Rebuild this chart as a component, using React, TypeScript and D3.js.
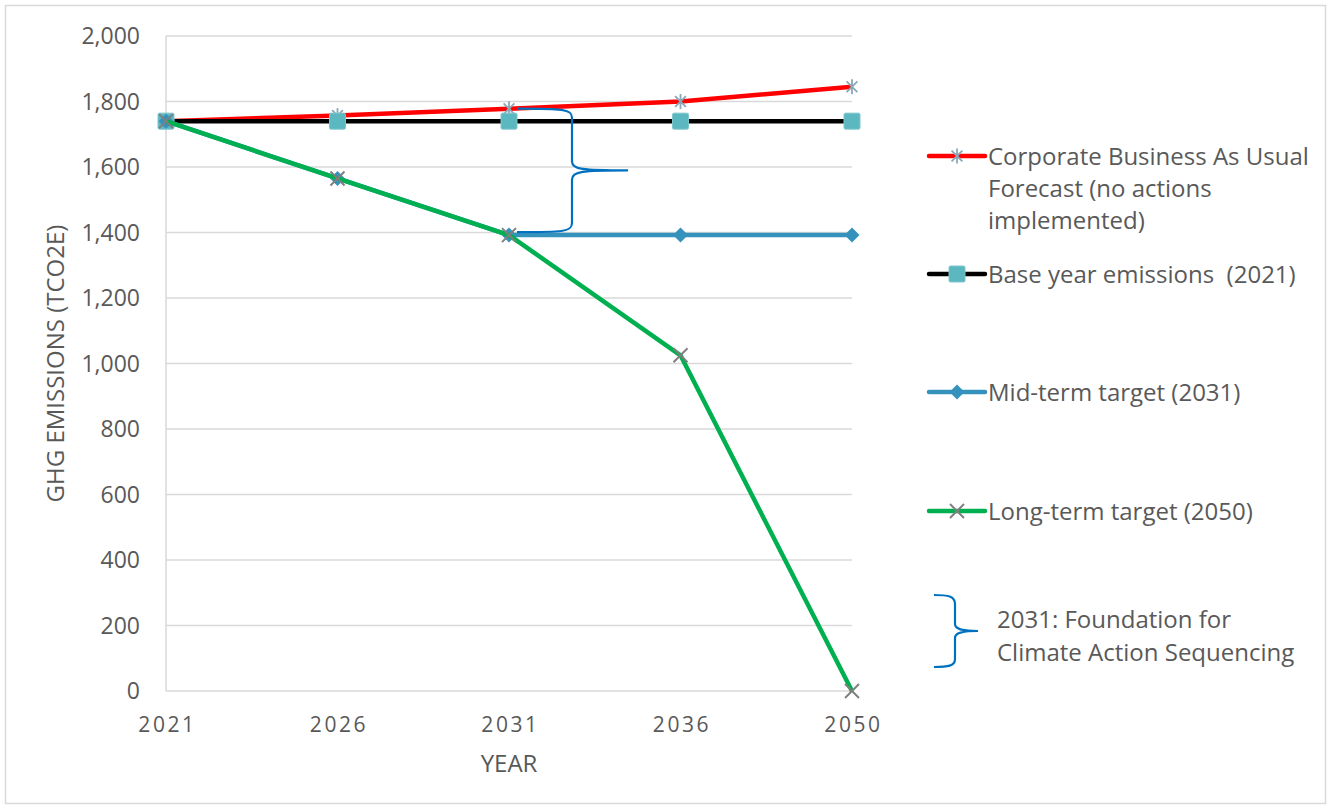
import React from "react";
import * as d3 from "d3";

const years = ["2021", "2026", "2031", "2036", "2050"];
const businessAsUsual = [1740, 1757, 1778, 1800, 1845];
const baseYear = [1740, 1740, 1740, 1740, 1740];
const midTerm = [1740, 1565, 1392, 1392, 1392];
const longTerm = [1740, 1565, 1392, 1025, 0];
const yTicks = [0, 200, 400, 600, 800, 1000, 1200, 1400, 1600, 1800, 2000];

const W = 1331;
const H = 809;
const FONT = "'Open Sans', 'Noto Sans', sans-serif";
const TEXT = "#595959";
const GRID = "#d9d9d9";

const x = d3.scalePoint<string>().domain(years).range([166, 852]).padding(0);
const y = d3.scaleLinear().domain([0, 2000]).range([691, 36]);
const fmt = d3.format(",");

type Marker = "asterisk" | "square" | "diamond" | "cross";

function MarkerShape({ kind, cx, cy }: { kind: Marker; cx: number; cy: number }) {
  if (kind === "square") {
    return <rect x={cx - 8} y={cy - 8} width={16} height={16} rx={1.5} fill="#5bb7c0" stroke="#7ec6cd" strokeWidth={1} />;
  }
  if (kind === "diamond") {
    const r = 7.5;
    return <path d={`M${cx},${cy - r}L${cx + r},${cy}L${cx},${cy + r}L${cx - r},${cy}Z`} fill="#3592bd" />;
  }
  if (kind === "asterisk") {
    const r = 7.5;
    const d = r * 0.72;
    return (
      <g stroke="#8aa8b8" strokeWidth={1.8}>
        <line x1={cx} y1={cy - r} x2={cx} y2={cy + r} />
        <line x1={cx - d} y1={cy - d} x2={cx + d} y2={cy + d} />
        <line x1={cx - d} y1={cy + d} x2={cx + d} y2={cy - d} />
      </g>
    );
  }
  const r = 7;
  return (
    <g stroke="#7f7f7f" strokeWidth={2}>
      <line x1={cx - r} y1={cy - r} x2={cx + r} y2={cy + r} />
      <line x1={cx - r} y1={cy + r} x2={cx + r} y2={cy - r} />
    </g>
  );
}

const series: { name: string[]; values: number[]; color: string; marker: Marker; legendY: number }[] = [
  { name: ["Corporate Business As Usual", "Forecast (no actions", "implemented)"], values: businessAsUsual, color: "#ff0000", marker: "asterisk", legendY: 156 },
  { name: ["Base year emissions \u00a0(2021)"], values: baseYear, color: "#000000", marker: "square", legendY: 274 },
  { name: ["Mid-term target (2031)"], values: midTerm, color: "#3592bd", marker: "diamond", legendY: 392 },
  { name: ["Long-term target (2050)"], values: longTerm, color: "#00b050", marker: "cross", legendY: 511 },
];

const line = d3
  .line<number>()
  .x((_, i) => x(years[i]) as number)
  .y((v) => y(v));

// Curly brace drawn from (x0, top) to (x0, bottom), pointing right to tipX
function bracePath(x0: number, top: number, bottom: number, midX: number, tipX: number) {
  const mid = (top + bottom) / 2;
  const c = 9;
  return [
    `M${x0},${top}`,
    `C${midX - 10},${top} ${midX},${top} ${midX},${top + c}`,
    `L${midX},${mid - c}`,
    `C${midX},${mid - 1} ${midX + 10},${mid} ${tipX},${mid}`,
    `M${midX},${bottom - c}`,
    `L${midX},${mid + c}`,
    `C${midX},${mid + 1} ${midX + 10},${mid} ${tipX},${mid}`,
    `M${x0},${bottom}`,
    `C${midX - 10},${bottom} ${midX},${bottom} ${midX},${bottom - c}`,
  ].join(" ");
}

export default function App() {
  const xBrace = (x("2031") as number) + 8;
  const braceTop = y(businessAsUsual[2]);
  const braceBottom = y(midTerm[2]) - 3;
  return (
    <svg width={W} height={H} style={{ position: "absolute", left: 0, top: 0, background: "#fff" }} fontFamily={FONT}>
      <rect x={5.5} y={5.5} width={W - 11} height={H - 11} fill="#fff" stroke={GRID} strokeWidth={1.5} />

      {/* gridlines and axes */}
      {yTicks.map((t) => (
        <line key={t} x1={166} x2={852} y1={y(t)} y2={y(t)} stroke={GRID} strokeWidth={1.5} />
      ))}
      <line x1={166} x2={166} y1={y(2000)} y2={y(0)} stroke={GRID} strokeWidth={1.5} />

      {yTicks.map((t) => (
        <text key={t} x={140} y={y(t)} dy="0.36em" textAnchor="end" fontSize={23} fill={TEXT}>
          {fmt(t)}
        </text>
      ))}
      {years.map((yr) => (
        <text key={yr} x={(x(yr) as number) + 1.5} y={732} textAnchor="middle" fontSize={21} letterSpacing={2.6} fill={TEXT}>
          {yr}
        </text>
      ))}
      <text x={509} y={772} textAnchor="middle" fontSize={24} fill={TEXT}>
        YEAR
      </text>
      <text transform={`translate(64,${y(1000)}) rotate(-90)`} textAnchor="middle" fontSize={24} fill={TEXT}>
        GHG EMISSIONS (TCO2E)
      </text>

      {/* series */}
      {series.map((s) => (
        <g key={s.name[0]}>
          <path d={line(s.values) || ""} fill="none" stroke={s.color} strokeWidth={4.5} strokeLinejoin="round" />
          {s.values.map((v, i) => (
            <MarkerShape key={i} kind={s.marker} cx={x(years[i]) as number} cy={y(v)} />
          ))}
        </g>
      ))}

      {/* brace between BAU and mid-term at 2031 */}
      <path d={bracePath(xBrace, braceTop, braceBottom, 572, 628)} fill="none" stroke="#0070c0" strokeWidth={2.2} />

      {/* legend */}
      {series.map((s) => (
        <g key={s.name[0]}>
          <line x1={929} x2={985} y1={s.legendY} y2={s.legendY} stroke={s.color} strokeWidth={4.5} strokeLinecap="round" />
          <MarkerShape kind={s.marker} cx={957} cy={s.legendY} />
          {s.name.map((ln, i) => (
            <text key={i} x={988} y={s.legendY + 9 + i * 32} fontSize={24} fill={TEXT}>
              {ln}
            </text>
          ))}
        </g>
      ))}
      <path
        d={`M934,595 C948,595 955,596 955,604 L955,624 C955,629 962,631 978,631 C962,631 955,633 955,638 L955,659 C955,666 948,667 934,667`}
        fill="none"
        stroke="#0070c0"
        strokeWidth={2.2}
      />
      <text x={997} y={628} fontSize={24} fill={TEXT}>
        2031: Foundation for
      </text>
      <text x={997} y={661} fontSize={24} fill={TEXT}>
        Climate Action Sequencing
      </text>
    </svg>
  );
}
